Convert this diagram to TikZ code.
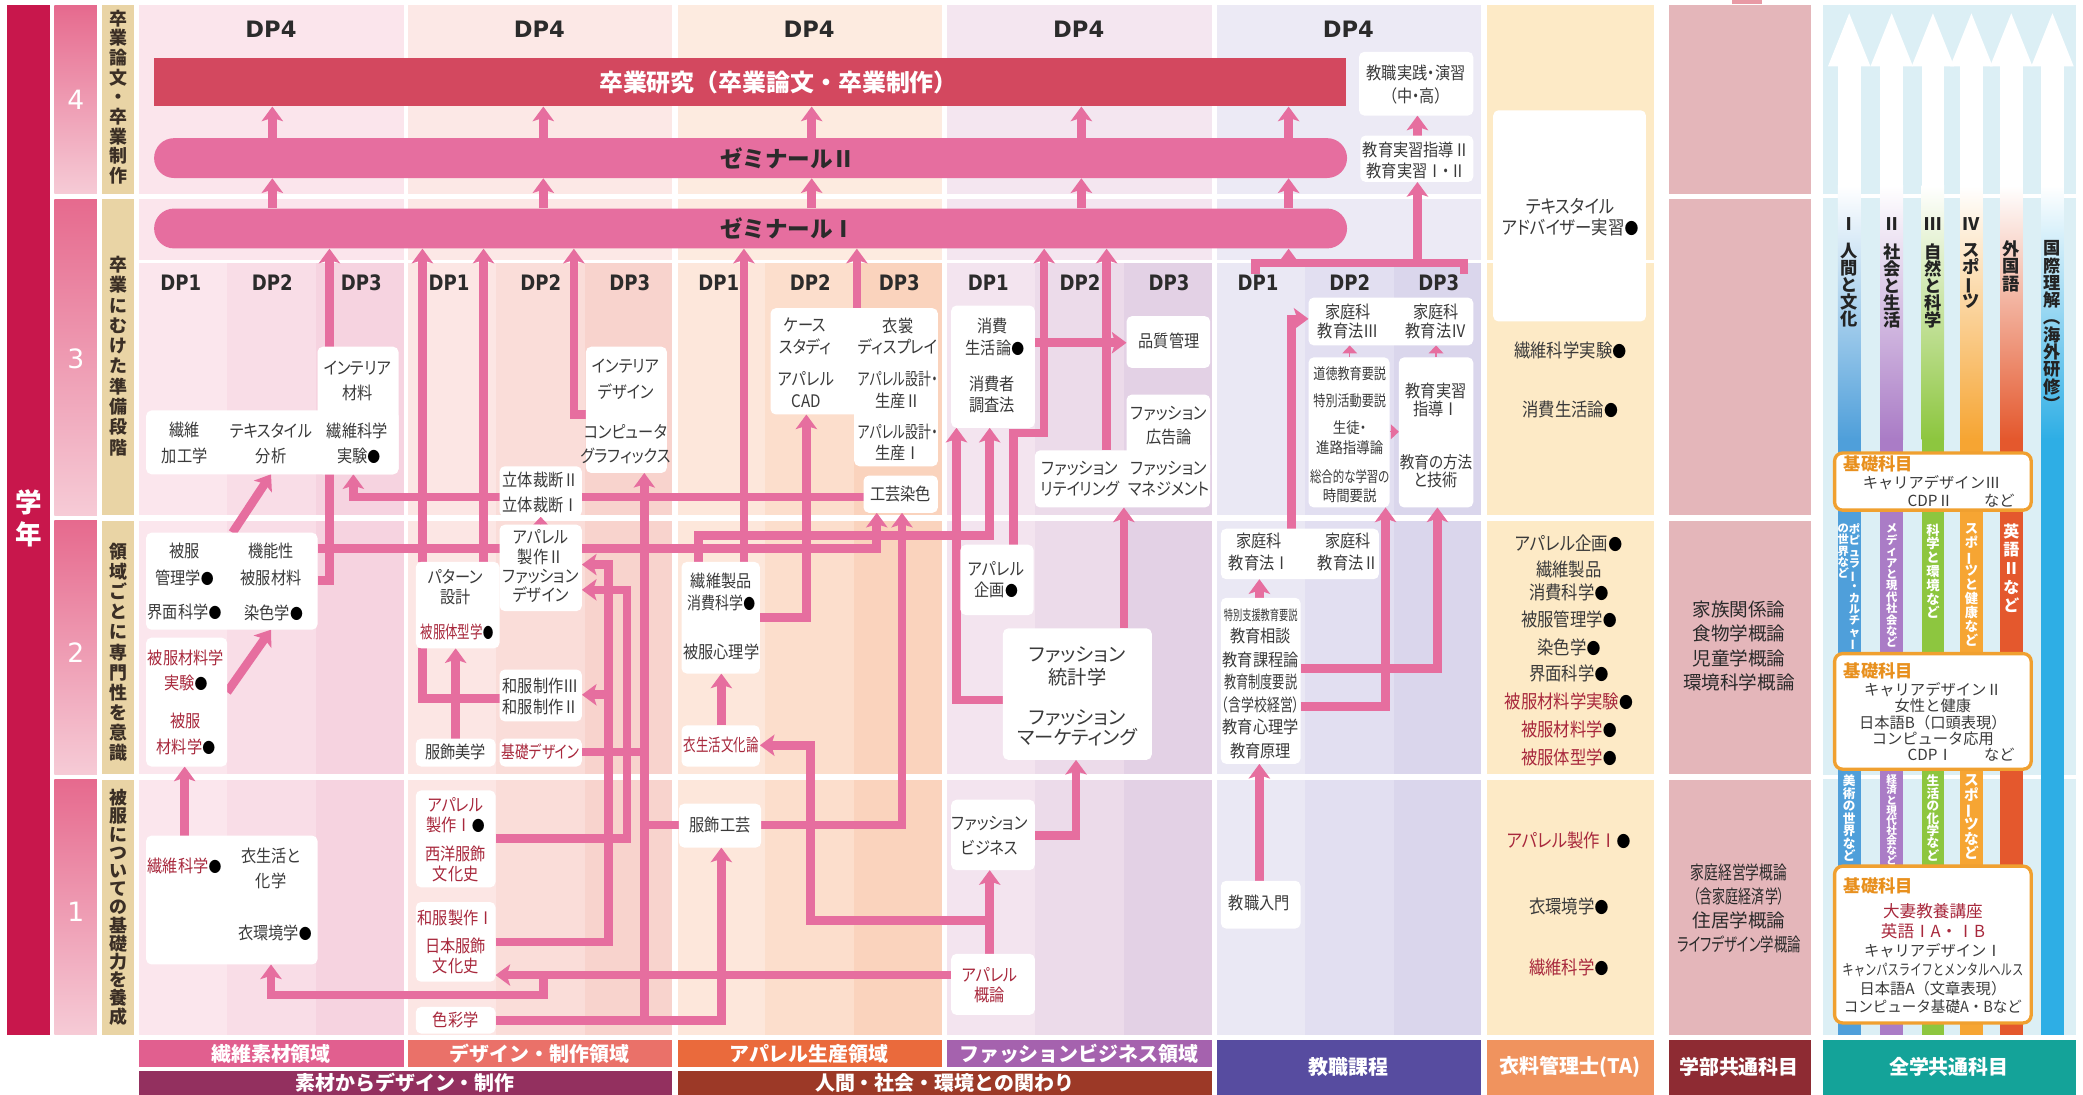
\documentclass[tikz,border=0pt]{standalone}
\usepackage{fontspec}
\usepackage{graphicx}
\usetikzlibrary{arrows.meta}
\setmainfont{Noto Sans CJK JP}
\newfontfamily\jpc{Noto Sans CJK JP}[FakeStretch=0.88,RawFeature=+palt]
\newfontfamily\jpp{Noto Sans CJK JP}[RawFeature=+palt]
\newfontfamily\dpf{DejaVu Sans}
\newfontfamily\dpc{DejaVu Sans}[FakeStretch=0.85]
\newcommand\fs[2]{\fontsize{#1}{#2}\selectfont}
\newcommand\sx[2]{\scalebox{#1}[1]{#2}}
\newcommand\bl{{\color{black}\scalebox{0.85}{●}}}
\newcommand\vl{\rotatebox[origin=c]{90}{ー}}
\newcommand\vpo{\rotatebox[origin=c]{-90}{（}}
\newcommand\vpc{\rotatebox[origin=c]{-90}{）}}
\makeatletter
\newcommand\vst[2]{\vbox{\baselineskip=#1\relax\lineskiplimit=-100pt\relax\lineskip=0pt\relax\@tfor\vch:=#2\do{\hbox to 1.2em{\hss\vch\hss}}}}
\makeatother
\newcounter{tn}
\newcommand\tx[4][]{\stepcounter{tn}\node[txt,#1] (t\arabic{tn}) at (#2,#3) {#4};}
\newcommand\bx[5]{\node[wbox,minimum width={(#4-#2)*1pt},minimum height={(#5-#3)*1pt}] (#1) at ({(#2+#4)/2},{(#3+#5)/2}) {};}
\newcommand\domain[5]{%
  \fill[#2] (#1,4) rectangle ({#1+199},146);
  \fill[#2] (#1,150) rectangle ({#1+199},196);
  \foreach \ya/\yb in {198/388,392/583,587/779}{%
    \fill[#3] (#1,\ya) rectangle ({#1+66},\yb);
    \fill[#4] ({#1+66},\ya) rectangle ({#1+133},\yb);
    \fill[#5] ({#1+133},\ya) rectangle ({#1+199},\yb);}}
\newcommand\shaft[2]{%
  \fill[white] ({#1-8.5},48) rectangle ({#1+8.5},140.5);
  \shade[top color=white,bottom color=#2] ({#1-8.5},140) rectangle ({#1+8.5},330.5);
  \fill[#2] ({#1-8.5},330) rectangle ({#1+8.5},779);
  \fill[white] ({#1-16},50) -- ({#1+16},50) -- (#1,10) -- cycle;}
\definecolor{cp}{HTML}{E66E9F}
\definecolor{csot}{HTML}{D3485F}
\definecolor{cgak}{HTML}{C8174C}
\definecolor{cyr1}{HTML}{E66A8E}
\definecolor{cyr2}{HTML}{F6CBD6}
\definecolor{ctan}{HTML}{E9D4A5}
\definecolor{cstg}{HTML}{3B2F25}
\definecolor{cdp}{HTML}{2B2B2B}
\definecolor{tgray}{HTML}{3A3A3A}
\definecolor{tred}{HTML}{A8283C}
\definecolor{tdark}{HTML}{2A2A2A}
\definecolor{clbl}{HTML}{232323}
\definecolor{d1t}{HTML}{FBE5EC}\definecolor{d1a}{HTML}{FBE6ED}\definecolor{d1b}{HTML}{F9DDE7}\definecolor{d1c}{HTML}{F6D3E0}
\definecolor{d2t}{HTML}{FCE8E6}\definecolor{d2a}{HTML}{FCE6E4}\definecolor{d2b}{HTML}{FADDD9}\definecolor{d2c}{HTML}{F8D3CD}
\definecolor{d3t}{HTML}{FDEBE0}\definecolor{d3a}{HTML}{FDE7DB}\definecolor{d3b}{HTML}{FCDECC}\definecolor{d3c}{HTML}{FAD3BD}
\definecolor{d4t}{HTML}{F4E6F0}\definecolor{d4a}{HTML}{F3E4EF}\definecolor{d4b}{HTML}{ECDBEA}\definecolor{d4c}{HTML}{E3D1E5}
\definecolor{d5t}{HTML}{ECEAF5}\definecolor{d5a}{HTML}{EAE8F4}\definecolor{d5b}{HTML}{E2DFF1}\definecolor{d5c}{HTML}{DAD6EC}
\definecolor{ccream}{HTML}{FDEAC6}
\definecolor{cpk}{HTML}{E4B6BA}
\definecolor{cpkt}{HTML}{E89AA5}
\definecolor{cblue}{HTML}{DCEFF5}
\definecolor{bd1}{HTML}{E15F8F}\definecolor{bd2}{HTML}{EA7169}\definecolor{bd3}{HTML}{EA6A3C}\definecolor{bd4}{HTML}{A562AE}
\definecolor{bg1}{HTML}{93305F}\definecolor{bg2}{HTML}{9C3927}\definecolor{bkyo}{HTML}{574CA0}
\definecolor{bta}{HTML}{F0935E}\definecolor{bgak}{HTML}{8E2B33}\definecolor{bzen}{HTML}{14A399}
\definecolor{s1}{HTML}{4F9FDA}\definecolor{s2}{HTML}{AA7CC6}\definecolor{s3}{HTML}{8DC63F}
\definecolor{s4}{HTML}{F6A533}\definecolor{s5}{HTML}{E4582D}\definecolor{s6}{HTML}{2EAEE5}
\definecolor{corg}{HTML}{F0A030}\definecolor{torg}{HTML}{E8901E}
\pgfdeclarelayer{back}\pgfdeclarelayer{lines}\pgfsetlayers{back,lines,main}
\begin{document}
\begin{tikzpicture}[x=1pt,y=-1pt,
  wbox/.style={fill=white,rounded corners=4pt,inner sep=0pt,outer sep=0pt},
  txt/.style={inner sep=0pt,outer sep=0pt,font=\jpc\fs{13}{15},text=tgray},
  conn/.style={draw=cp,line width=6.5pt},
  arr/.style={conn,-{Stealth[length=11pt,width=16pt,inset=2.5pt]}},
  sarr/.style={draw=cp,line width=1pt,-{Triangle[length=6pt,width=11pt]}},
  stg/.style={inner sep=0pt,font=\bfseries\fs{13.5}{15},text=cstg},
  dp/.style={inner sep=0pt,font=\dpc\bfseries\fs{16}{16},text=cdp},
  dpfour/.style={inner sep=0pt,font=\dpf\bfseries\fs{17}{17},text=cdp},
  band/.style={inner sep=0pt,font=\bfseries\fs{15}{15},text=white},
  lbl/.style={inner sep=0pt,font=\bfseries\fs{13}{13},text=clbl},
  wl/.style={inner sep=0pt,anchor=north,text=white,font=\bfseries\fs{8.5}{8.5}},
  kbox/.style={fill=white,draw=corg,line width=2.5pt,rounded corners=6pt,inner sep=0pt},
  kt/.style={inner sep=0pt,font=\fs{11.5}{13},text=tgray},
  ko/.style={inner sep=0pt,font=\bfseries\fs{13}{13},text=torg},
  cr/.style={font=\jpc\fs{14}{16}},
  pk/.style={font=\fs{14}{16},text=tdark},
]
\useasboundingbox (0,0) rectangle (1568,824);
\begin{pgfonlayer}{back}
\fill[white] (0,0) rectangle (1568,824);
\fill[cgak] (5,4) rectangle (38,779);
\foreach \ya/\yb in {4/146,150/388,392/583,587/779}{%
  \shade[top color=cyr1,bottom color=cyr2] (41,\ya) rectangle (73,\yb);
  \fill[ctan] (77,\ya) rectangle (101,\yb);}
\domain{105}{d1t}{d1a}{d1b}{d1c}
\domain{307}{d2t}{d2a}{d2b}{d2c}
\domain{510}{d3t}{d3a}{d3b}{d3c}
\domain{713}{d4t}{d4a}{d4b}{d4c}
\domain{916}{d5t}{d5a}{d5b}{d5c}
\foreach \ya/\yb in {4/196,198/388,392/583,587/779} \fill[ccream] (1119,\ya) rectangle (1245,\yb);
\foreach \ya/\yb in {4/146,150/388,392/583,587/779} \fill[cpk] (1256,\ya) rectangle (1363,\yb);
\fill[cpkt] (1304,0) rectangle (1326,3);
\fill[cblue] (1372,4) rectangle (1563,779);
\draw[white,line width=2.5pt] (1372,147.5) -- (1563,147.5) (1372,585) -- (1563,585);
\shaft{1392}{s1}\shaft{1424}{s2}\shaft{1455}{s3}\shaft{1484}{s4}\shaft{1514}{s5}\shaft{1545}{s6}
\fill[bd1] (105,783) rectangle (304,803);
\fill[bd2] (307,783) rectangle (506,803);
\fill[bd3] (510,783) rectangle (709,803);
\fill[bd4] (713,783) rectangle (912,803);
\fill[bg1] (105,806) rectangle (506,824);
\fill[bg2] (510,806) rectangle (912,824);
\fill[bkyo] (916,783) rectangle (1115,824);
\fill[bta] (1119,783) rectangle (1245,824);
\fill[bgak] (1256,783) rectangle (1363,824);
\fill[bzen] (1372,783) rectangle (1563,824);
\end{pgfonlayer}

% left labels
\node[font=\bfseries\fs{20}{22},text=white,inner sep=0] (gakunen) at (21.5,390) {\vst{24pt}{学年}};
\foreach \n/\ny in {4/75,3/270,2/491,1/686} \node[font=\dpf\fs{20}{20},text=white,inner sep=0] (yr\n) at (57,\ny) {\n};
\node[stg] (st4) at (89,73) {\vst{14.8pt}{卒業論文・卒業制作}};
\node[stg] (st3) at (89,268) {\vst{15.3pt}{卒業にむけた準備段階}};
\node[stg] (st2) at (89,491) {\vst{15.1pt}{領域ごとに専門性を意識}};
\node[stg] (st1) at (89,683) {\vst{13.7pt}{被服についての基礎力を養成}};

% bands
\node[band] (bt1) at (204,793) {繊維素材領域};
\node[band] (bt2) at (406,793) {デザイン・制作領域};
\node[band] (bt3) at (609,793) {アパレル生産領域};
\node[band] (bt4) at (812,793) {ファッションビジネス領域};
\node[band] (bt5) at (305,815) {素材からデザイン・制作};
\node[band] (bt6) at (711,815) {人間・社会・環境との関わり};
\node[band] (bt7) at (1015,803) {教職課程};
\node[band] (bt8) at (1182,803) {衣料管理士(TA)};
\node[band] (bt9) at (1309,803) {学部共通科目};
\node[band] (bt10) at (1467,803) {全学共通科目};

% DP labels
\foreach \x [count=\i] in {204,406,609,812,1015} \node[dpfour] (dpf\i) at (\x,22) {DP4};
\foreach \d [count=\i] in {105,307,510,713,916}{%
  \node[dp] (dpa\i) at (\d+31,213) {DP1};
  \node[dp] (dpb\i) at (\d+100,213) {DP2};
  \node[dp] (dpc\i) at (\d+167,213) {DP3};}

% bars
\node[fill=csot,minimum width=897pt,minimum height=36pt,inner sep=0] (sotsu) at (564.5,62) {};
\node[fill=cp,rounded corners=15pt,minimum width=898pt,minimum height=30pt,inner sep=0] (semi2) at (565,119) {};
\node[fill=cp,rounded corners=15pt,minimum width=898pt,minimum height=30pt,inner sep=0] (semi1) at (565,172) {};
\node[font=\bfseries\fs{18}{20},text=white,inner sep=0] (sotsut) at (586,62) {卒業研究（卒業論文・卒業制作）};
\node[font=\bfseries\fs{17}{19},text=cdp,inner sep=0] (semi2t) at (593,119) {ゼミナールⅡ};
\node[font=\bfseries\fs{17}{19},text=cdp,inner sep=0] (semi1t) at (593,172) {ゼミナールⅠ};

% boxes D1
\bx{b1a}{110}{309}{300}{357}
\bx{b1a2}{239}{261}{300}{357}
\bx{b1b}{110}{401}{239}{474}
\bx{b1c}{110}{480}{171}{577}
\bx{b1d}{110}{629}{239}{726}
% D2
\bx{rittai}{376}{351}{438}{389}
\bx{ap2}{376}{395}{438}{460}
\bx{pat}{313}{423}{376}{488}
\bx{wasei}{376}{504}{438}{543}
\bx{fbi}{313}{556}{373}{577}
\bx{kiso}{376}{556}{438}{577}
\bx{intd}{441}{261}{502}{356}
\bx{ap1}{313}{595}{373}{668}
\bx{wa1}{313}{679}{373}{739}
\bx{shik}{313}{758}{373}{778}
% D3
\bx{case}{580}{232}{660}{312}
\bx{isho}{643}{232}{706}{351}
\bx{koug}{650}{358}{706}{386}
\bx{sen}{513}{423}{572}{507}
\bx{isei}{513}{546}{572}{577}
\bx{fkg}{511}{605}{573}{638}
% D4
\bx{shohi}{716}{230}{779}{322}
\bx{hin}{848}{238}{911}{277}
\bx{kok}{848}{297}{911}{360}
\bx{ret}{779}{339}{911}{382}
\bx{kikaku}{723}{410}{778}{463}
\bx{tok}{755}{473}{867}{572}
\bx{fb}{716}{602}{779}{655}
\bx{gaik}{716}{718}{779}{764}
% D5
\bx{ho3}{985}{224}{1109}{260}
\bx{dou}{985}{269}{1046}{382}
\bx{jis}{1053}{269}{1109}{382}
\bx{ho1}{919}{398}{1038}{436}
\bx{tokushi}{919}{450}{979}{575}
\bx{kyoshoku}{919}{663}{979}{699}
\bx{kyoj}{1023}{39}{1109}{87}
\bx{jis2}{1024}{102}{1109}{137}
% cream
\bx{tex}{1124}{83}{1239}{242}

% connectors
\begin{pgfonlayer}{lines}
\foreach \x in {205,409,611,814,970}{%
  \draw[arr] (semi2.north -| \x,0) -- (sotsu.south -| \x,0);
  \draw[arr] (semi1.north -| \x,0) -- (semi2.south -| \x,0);}
% D1
\draw[arr] (b1d.north -| 139,0) -- (b1c.south -| 139,0);
\draw[arr] (b1c.east |- 0,521) -- (b1b.south -| 204,0);
\draw[arr] (b1b.north -| 175,0) -- (b1a.south -| 204,0);
\draw[arr] (b1b.east |- 0,437) -| (semi1.south -| 248,0);
\draw[arr] (b1b.east |- 0,413) -| (koug.south -| 660,0);
\draw[arr] (koug.west |- 0,374) -| (b1a2.south -| 266,0);
\draw[arr] (gaik.west |- 0,734) -- (wa1.east |- 0,734);
\draw[arr] (409,734) |- (204,749) -- (b1d.south -| 204,0);
% D2
\draw[arr] (pat.north -| 318,0) -- (semi1.south -| 318,0);
\draw[arr] (pat.north -| 364,0) -- (semi1.south -| 364,0);
\draw[arr] (intd.west |- 0,312) -| (semi1.south -| 432,0);
\draw[arr] (fbi.north -| 343,0) -- (pat.south -| 343,0);
\draw[conn] (wasei.west |- 0,526) -| (pat.south -| 318,0);
\draw[sarr] (ap2.north -| 407,0) -- (rittai.south -| 407,0);
\draw[arr] (wa1.east |- 0,709) -| (458,425) -- (ap2.east |- 0,425);
\draw[arr] (458,523) -- (wasei.east |- 0,523);
\draw[arr] (ap1.east |- 0,631) -| (472,444) -- (ap2.east |- 0,444);
\draw[arr] (shik.east |- 0,768) -| (fkg.south -| 543,0);
\draw[arr] (485,768) -- (intd.south -| 485,0);
\draw[conn] (kiso.east |- 0,566) -- (485,566);
\draw[conn] (fkg.west |- 0,621) -- (485,621);
% D3
\draw[arr] (sen.north -| 560,0) -- (semi1.south -| 560,0);
\draw[arr] (case.north -| 645,0) -- (semi1.south -| 645,0);
\draw[arr] (sen.east |- 0,465) -| (case.south -| 607,0);
\draw[arr] (sen.north -| 526,0) |- (745,403) -- (shohi.south -| 745,0);
\draw[arr] (745,693) -| (610,561) -- (isei.east |- 0,561);
\draw[arr] (isei.north -| 543,0) -- (sen.south -| 543,0);
\draw[arr] (fkg.east |- 0,621) -| (koug.south -| 679,0);
% D4
\draw[arr] (shohi.east |- 0,258) -- (hin.west |- 0,258);
\draw[arr] (kikaku.north -| 763,0) |- (786,326) -- (semi1.south -| 786,0);
\draw[arr] (ret.north -| 833,0) -- (semi1.south -| 833,0);
\draw[arr] (tok.north -| 846,0) -- (ret.south -| 846,0);
\draw[arr] (tok.west |- 0,527) -| (shohi.south -| 720,0);
\draw[arr] (fb.east |- 0,629) -| (tok.south -| 810,0);
\draw[arr] (gaik.north -| 745,0) -- (fb.south -| 745,0);
% D5
\draw[arr] (tokushi.north -| 948,0) -- (ho1.south -| 948,0);
\draw[arr] (kyoshoku.north -| 948,0) -- (tokushi.south -| 948,0);
\draw[arr] (ho1.north -| 972,0) |- (ho3.west |- 0,240);
\draw[arr] (tokushi.east |- 0,503) -| (jis.south -| 1082,0);
\draw[arr] (tokushi.east |- 0,532) -| (dou.south -| 1043,0);
\draw[sarr] (dou.north -| 1016,0) -- (ho3.south -| 1016,0);
\draw[sarr] (jis.north -| 1081,0) -- (ho3.south -| 1081,0);
\draw[sarr] (dou.east |- 0,325) -- (jis.west |- 0,325);
\draw[conn] (945,206) |- (1102,198) -- (1102,206);
\draw[arr] (970,198) -- (semi1.south -| 970,0);
\draw[arr] (1067,198) -- (jis2.south -| 1067,0);
\draw[arr] (jis2.north -| 1067,0) -- (kyoj.south -| 1067,0);
\end{pgfonlayer}

% texts D1
\tx{139}{324}{繊維}\tx{139}{343}{加工学}
\tx{204}{324}{テキスタイル}\tx{204}{343}{分析}
\tx{269}{277}{インテリア}\tx{269}{296}{材料}
\tx{269}{324}{繊維科学}\tx{270}{343}{実験\bl}
\tx{139}{415}{被服}\tx{139}{435}{管理学\bl}
\tx{204}{415}{機能性}\tx{204}{435}{被服材料}
\tx{139}{461}{界面科学\bl}\tx{206}{461}{染色学\bl}
\tx[text=tred]{140}{495}{被服材料学}\tx[text=tred]{140}{514}{実験\bl}
\tx[text=tred]{140}{543}{被服}\tx[text=tred]{140}{562}{材料学\bl}
\tx[text=tred]{139}{652}{繊維科学\bl}
\tx{204}{644}{衣生活と}\tx{204}{663}{化学}
\tx{207}{702}{衣環境学\bl}
% D2
\tx{407}{361}{立体裁断Ⅱ}\tx{407}{380}{立体裁断Ⅰ}
\tx{407}{404}{アパレル}\tx{407}{419}{製作Ⅱ}\tx{407}{434}{ファッション}\tx{407}{448}{デザイン}
\tx{343}{434}{パターン}\tx{343}{449}{設計}\tx[text=tred]{344}{476}{\sx{0.82}{被服体型学\bl}}
\tx{407}{516}{和服制作Ⅲ}\tx{407}{532}{和服制作Ⅱ}
\tx{343}{566}{服飾美学}\tx[text=tred]{407}{566}{\sx{0.9}{基礎デザイン}}
\tx{471}{276}{インテリア}\tx{471}{295}{デザイン}\tx{471}{325}{コンピュータ}\tx{471}{343}{グラフィックス}
\tx[text=tred]{343}{606}{アパレル}\tx[text=tred]{343}{621}{製作Ⅰ\bl}\tx[text=tred]{343}{643}{西洋服飾}\tx[text=tred]{343}{658}{文化史}
\tx[text=tred]{343}{691}{和服製作Ⅰ}\tx[text=tred]{343}{712}{日本服飾}\tx[text=tred]{343}{727}{文化史}
\tx[text=tred]{343}{768}{色彩学}
% D3
\tx{606}{245}{ケース}\tx{606}{261}{スタディ}\tx{607}{285}{アパレル}\tx{607}{302}{CAD}
\tx{676}{245}{衣裳}\tx{676}{261}{ディスプレイ}\tx{676}{285}{\sx{0.85}{アパレル設計・}}\tx{676}{302}{生産Ⅱ}
\tx{676}{325}{\sx{0.85}{アパレル設計・}}\tx{676}{341}{生産Ⅰ}
\tx{678}{372}{工芸染色}
\tx{543}{437}{繊維製品}\tx{543}{454}{\sx{0.92}{消費科学\bl}}\tx{543}{491}{被服心理学}
\tx[text=tred]{543}{561}{\sx{0.82}{衣生活文化論}}
\tx{542}{621}{服飾工芸}
% D4
\tx{747}{245}{消費}\tx{749}{262}{生活論\bl}\tx{747}{289}{消費者}\tx{747}{305}{調査法}
\tx{880}{257}{品質管理}
\tx{880}{311}{ファッション}\tx{880}{329}{広告論}
\tx{813}{353}{ファッション}\tx{813}{368}{リテイリング}
\tx{880}{353}{ファッション}\tx{880}{368}{マネジメント}
\tx{750}{428}{アパレル}\tx{750}{444}{企画\bl}
\tx[font=\jpp\fs{14.5}{16}]{811}{493}{ファッション}\tx[font=\jpp\fs{14.5}{16}]{811}{510}{統計学}
\tx[font=\jpp\fs{14.5}{16}]{811}{540}{ファッション}\tx[font=\jpp\fs{14.5}{16}]{811}{555}{マーケティング}
\tx{745}{620}{ファッション}\tx{745}{638}{ビジネス}
\tx[text=tred]{745}{734}{アパレル}\tx[text=tred]{745}{749}{概論}
% D5
\tx{1015}{235}{家庭科}\tx{1015}{249}{教育法Ⅲ}\tx{1081}{235}{家庭科}\tx{1081}{249}{教育法Ⅳ}
\tx[font=\jpc\fs{11.5}{13}]{1016}{281}{\sx{0.9}{道徳教育要説}}
\tx[font=\jpc\fs{11.5}{13}]{1016}{302}{\sx{0.9}{特別活動要説}}
\tx[font=\jpc\fs{11.5}{13}]{1016}{322}{生徒・}
\tx[font=\jpc\fs{11.5}{13}]{1016}{337}{進路指導論}
\tx[font=\jpc\fs{11.5}{13}]{1016}{359}{\sx{0.85}{総合的な学習の}}
\tx[font=\jpc\fs{11.5}{13}]{1016}{373}{時間要説}
\tx{1081}{294}{教育実習}\tx{1081}{308}{指導Ⅰ}\tx[font=\jpc\fs{12.5}{14}]{1081}{348}{教育の方法}\tx{1081}{361}{と技術}
\tx{948}{407}{家庭科}\tx{948}{424}{教育法Ⅰ}\tx{1015}{407}{家庭科}\tx{1015}{424}{教育法Ⅱ}
\tx[font=\jpc\fs{10.5}{12}]{949}{463}{\sx{0.75}{特別支援教育要説}}
\tx{949}{479}{教育相談}\tx{949}{497}{教育課程論}\tx{949}{513}{\sx{0.8}{教育制度要説}}
\tx{949}{531}{\sx{0.85}{（含学校経営）}}\tx{949}{547}{教育心理学}\tx{949}{565}{教育原理}
\tx{948}{680}{教職入門}
\tx{1066}{55}{教職実践・演習}\tx{1066}{72}{（中・高）}
\tx{1066}{113}{教育実習指導Ⅱ}\tx{1066}{129}{教育実習Ⅰ・Ⅱ}
% cream
\tx[cr]{1182}{155}{テキスタイル}\tx[cr]{1182}{171}{アドバイザー実習\bl}
\tx[cr]{1182}{264}{繊維科学実験\bl}\tx[cr]{1182}{308}{消費生活論\bl}
\tx[cr]{1181}{409}{アパレル企画\bl}\tx[cr]{1181}{429}{繊維製品}\tx[cr]{1181}{446}{消費科学\bl}
\tx[cr]{1181}{466}{被服管理学\bl}\tx[cr]{1181}{487}{染色学\bl}\tx[cr]{1181}{507}{界面科学\bl}
\tx[cr,text=tred]{1181}{528}{被服材料学実験\bl}\tx[cr,text=tred]{1181}{549}{被服材料学\bl}\tx[cr,text=tred]{1181}{570}{被服体型学\bl}
\tx[cr,text=tred]{1181}{633}{アパレル製作Ⅰ\bl}\tx[cr]{1181}{682}{衣環境学\bl}\tx[cr,text=tred]{1181}{728}{繊維科学\bl}
% pink
\tx[pk]{1309}{459}{家族関係論}\tx[pk]{1309}{477}{食物学概論}\tx[pk]{1309}{496}{児童学概論}\tx[pk]{1309}{514}{環境科学概論}
\tx[pk]{1309}{657}{\sx{0.74}{家庭経営学概論}}\tx[pk,font=\jpp\fs{14}{16}]{1309}{675}{\sx{0.7}{（含家庭経済学）}}
\tx[pk]{1309}{693}{住居学概論}\tx[pk,font=\jpp\fs{14}{16}]{1309}{711}{\sx{0.72}{ライフデザイン学概論}}

% zengaku labels
\node[lbl] (r1) at (1392,169) {Ⅰ};
\node[lbl,anchor=north] (c1) at (1392,183) {\vst{12.8pt}{人間と文化}};
\node[lbl] (r2) at (1424,169) {Ⅱ};
\node[lbl,anchor=north] (c2) at (1424,183) {\vst{12.8pt}{社会と生活}};
\node[lbl] (r3) at (1455,169) {Ⅲ};
\node[lbl,anchor=north] (c3) at (1455,183) {\vst{12.8pt}{自然と科学}};
\node[lbl] (r4) at (1484,169) {Ⅳ};
\node[lbl,anchor=north] (c4) at (1484,183) {\vst{12.8pt}{スポ\vl ツ}};
\node[lbl,anchor=north] (c5) at (1514,181) {\vst{13pt}{外国語}};
\node[lbl,anchor=north] (c6) at (1545,181) {\vst{13pt}{国際理解\vpo 海外研修\vpc}};
\node[wl] (w1a) at (1396,394) {\vst{8.6pt}{ポピュラ\vl・カルチャ\vl}};
\node[wl] (w1b) at (1387.5,394) {\vst{8.6pt}{の世界など}};
\node[wl] (w2) at (1424,394) {\vst{8.6pt}{メディアと現代社会など}};
\node[wl,font=\bfseries\fs{10}{10}] (w3) at (1455,394) {\vst{10.4pt}{科学と環境など}};
\node[wl,font=\bfseries\fs{10}{10}] (w4) at (1484,394) {\vst{10.5pt}{スポ\vl ツと健康など}};
\node[wl,font=\bfseries\fs{12}{12}] (w5) at (1514,394) {\vst{14pt}{英語Ⅱなど}};
\node[wl,font=\bfseries\fs{9.5}{9.5}] (w6) at (1392,583) {\vst{9.4pt}{美術の世界など}};
\node[wl,font=\bfseries\fs{8}{8}] (w7) at (1424,583) {\vst{7.6pt}{経済と現代社会など}};
\node[wl,font=\bfseries\fs{9.5}{9.5}] (w8) at (1455,583) {\vst{9.4pt}{生活の化学など}};
\node[wl,font=\bfseries\fs{11}{11}] (w9) at (1484,583) {\vst{11pt}{スポ\vl ツなど}};

\node[kbox,minimum width=148pt,minimum height=43pt] (k1) at (1455,362.5) {};
\node[ko] (k1h) at (1414,349) {基礎科目};
\node[kt] (k1a) at (1454,363) {キャリアデザインⅢ};
\node[kt] (k1b) at (1453,377) {CDPⅡ};
\node[kt] (k1c) at (1505,377) {など};
\node[kbox,minimum width=148pt,minimum height=87pt] (k2) at (1455,535.5) {};
\node[ko] (k2h) at (1414,505) {基礎科目};
\node[kt] (k2a) at (1455,519) {キャリアデザインⅡ};
\node[kt] (k2b) at (1455,531) {女性と健康};
\node[kt] (k2c) at (1455,544) {日本語B（口頭表現）};
\node[kt] (k2d) at (1455,556) {コンピュータ応用};
\node[kt] (k2e) at (1453,568) {CDPⅠ};
\node[kt] (k2f) at (1505,568) {など};
\node[kbox,minimum width=148pt,minimum height=118pt] (k3) at (1455,711) {};
\node[ko] (k3h) at (1414,667) {基礎科目};
\node[kt,text=tred,font=\fs{12.5}{14}] (k3a) at (1455,686) {大妻教養講座};
\node[kt,text=tred,font=\fs{12.5}{14}] (k3b) at (1455,701) {英語ⅠA・ⅠB};
\node[kt] (k3c) at (1455,716) {キャリアデザインⅠ};
\node[kt] (k3d) at (1455,730) {\sx{0.74}{キャンパスライフとメンタルヘルス}};
\node[kt] (k3e) at (1455,744) {日本語A（文章表現）};
\node[kt] (k3f) at (1455,758) {\sx{0.95}{コンピュータ基礎A・Bなど}};
\end{tikzpicture}
\end{document}
